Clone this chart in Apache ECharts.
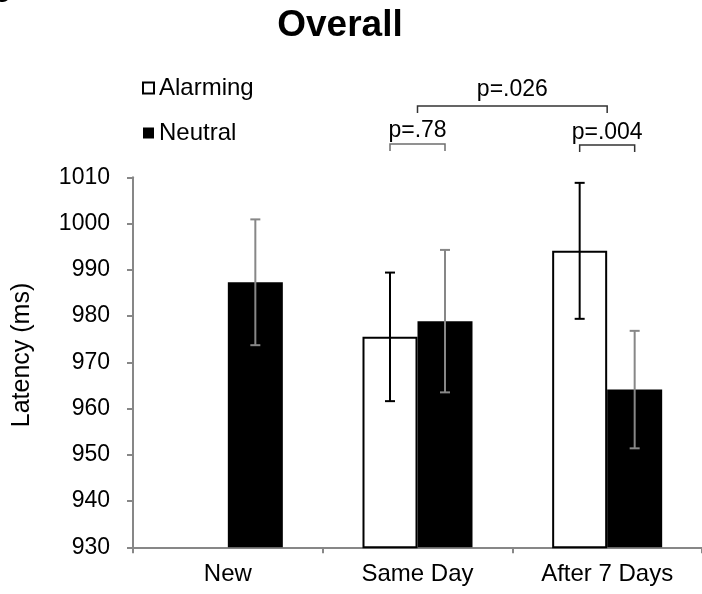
<!DOCTYPE html>
<html><head><meta charset="utf-8">
<script src="https://cdn.jsdelivr.net/npm/echarts@6/dist/echarts.min.js"></script>
<style>html,body{margin:0;padding:0;background:#fff}#c{width:702px;height:594px}</style>
</head><body><div id="c"></div>
<script>
// ---- data ----
const categories = ['New', 'Same Day', 'After 7 Days'];
const seriesNames = ['Alarming', 'Neutral'];
const alarming = [null, 975.5, 994.1];
const alarmingErr = [null, 13.9, 14.7];
const neutral = [987.3, 978.9, 964.1];
const neutralErr = [13.6, 15.4, 12.7];
const yMin = 930, yMax = 1010, yInterval = 10;
const yAxisTitle = 'Latency (ms)';
const chartTitle = 'Overall';
const pLabels = ['p=.78', 'p=.004', 'p=.026'];
// bracket ends: [categoryIndex, side] side -1 = Alarming bar, +1 = Neutral bar, 0 = group centre
const pFrom = [[1, -1], [2, -1], [1, 0]];
const pTo = [[1, 1], [2, 1], [2, 0]];

const FONT = '"Liberation Sans", Arial, sans-serif';
const GAP = 0.42;

const chart = echarts.init(document.getElementById('c'), null, {renderer: 'canvas'});

function errData(vals, errs) {
  const out = [];
  vals.forEach((v, i) => { if (v != null) out.push([i, v, errs[i]]); });
  return out;
}

function errRender(side, color) {
  return function (params, api) {
    const idx = api.value(0), v = api.value(1), e = api.value(2);
    const band = api.size([1, 0])[0];
    const off = band * (1 - GAP) / 4;
    const x = api.coord([idx, v])[0] + side * off;
    const yt = api.coord([idx, v + e])[1];
    const yb = api.coord([idx, v - e])[1];
    const cap = 5;
    const st = {stroke: color, lineWidth: 2};
    return {type: 'group', children: [
      {type: 'line', shape: {x1: x, y1: yt, x2: x, y2: yb}, style: st},
      {type: 'line', shape: {x1: x - cap, y1: yt, x2: x + cap, y2: yt}, style: st},
      {type: 'line', shape: {x1: x - cap, y1: yb, x2: x + cap, y2: yb}, style: st}
    ]};
  };
}

const option = {
  animation: false,
  backgroundColor: '#fff',
  textStyle: {fontFamily: FONT},
  grid: {left: 133, right: -3, top: 177.3, bottom: 46.7, containLabel: false},
  legend: {
    data: seriesNames,
    orient: 'vertical',
    left: 137, top: 71,
    itemWidth: 11, itemHeight: 11, itemGap: 21,
    icon: 'rect',
    textStyle: {fontSize: 24, color: '#000', fontFamily: FONT},
    selectedMode: false
  },
  xAxis: {
    type: 'category',
    data: categories,
    axisLine: {lineStyle: {color: '#878787', width: 2}},
    axisTick: {show: true, length: 6, lineStyle: {color: '#878787', width: 2}},
    axisLabel: {fontSize: 24, color: '#000', margin: 15, fontFamily: FONT},
    splitLine: {show: false}
  },
  yAxis: {
    type: 'value',
    min: yMin, max: yMax, interval: yInterval,
    axisLine: {show: true, lineStyle: {color: '#878787', width: 2}},
    axisTick: {show: true, length: 6, lineStyle: {color: '#878787', width: 2}},
    axisLabel: {fontSize: 23, color: '#000', margin: 23, fontFamily: FONT, formatter: v => String(v)},
    splitLine: {show: false}
  },
  series: [
    {name: 'Alarming', type: 'bar', data: alarming, barGap: '0%', barCategoryGap: (GAP * 100) + '%',
     itemStyle: {color: '#fff', borderColor: '#000', borderWidth: 2}},
    {name: 'Neutral', type: 'bar', data: neutral, barGap: '0%', barCategoryGap: (GAP * 100) + '%',
     itemStyle: {color: '#000', borderColor: '#000', borderWidth: 0}},
    {type: 'custom', name: 'errA', data: errData(alarming, alarmingErr), z: 10,
     renderItem: errRender(-1, '#000'), encode: {x: 0, y: 1}},
    {type: 'custom', name: 'errN', data: errData(neutral, neutralErr), z: 10,
     renderItem: errRender(1, '#878787'), encode: {x: 0, y: [1]}}
  ]
};
chart.setOption(option);

// annotations: title, axis title, brackets, p labels
function bracketX(pt) {
  const c = chart.convertToPixel({xAxisIndex: 0}, pt[0]);
  const band = chart.getModel().getComponent('xAxis', 0).axis.getBandWidth();
  return c + pt[1] * band * (1 - GAP) / 4;
}
const bracketY = [144, 145, 106];
const legLen = 7;
const labelY = [131, 133, 90];
const bracketColor = ['#6e6e6e', '#333', '#333'];
const g = [
  {type: 'text', left: -2, top: -34, style: {text: 'y', font: 'bold 36px ' + FONT, fill: '#000'}},
  {type: 'text', x: 340, y: 26, style: {text: chartTitle, font: 'bold 37px ' + FONT, fill: '#000', align: 'center', verticalAlign: 'middle'}},
  {type: 'text', x: 22.5, y: 355, rotation: Math.PI / 2,
   style: {text: yAxisTitle, font: '25px ' + FONT, fill: '#000', align: 'center', verticalAlign: 'middle'}}
];
pLabels.forEach((lab, i) => {
  const x1 = bracketX(pFrom[i]), x2 = bracketX(pTo[i]), y = bracketY[i];
  g.push({type: 'polyline', shape: {points: [[x1, y + legLen], [x1, y], [x2, y], [x2, y + legLen]]},
          style: {stroke: bracketColor[i], lineWidth: 1.5, fill: null}});
  g.push({type: 'text', x: (x1 + x2) / 2, y: labelY[i],
          style: {text: lab, font: '23px ' + FONT, fill: '#000', align: 'center', verticalAlign: 'middle'}});
});
chart.setOption({graphic: g});
</script>
</body></html>
